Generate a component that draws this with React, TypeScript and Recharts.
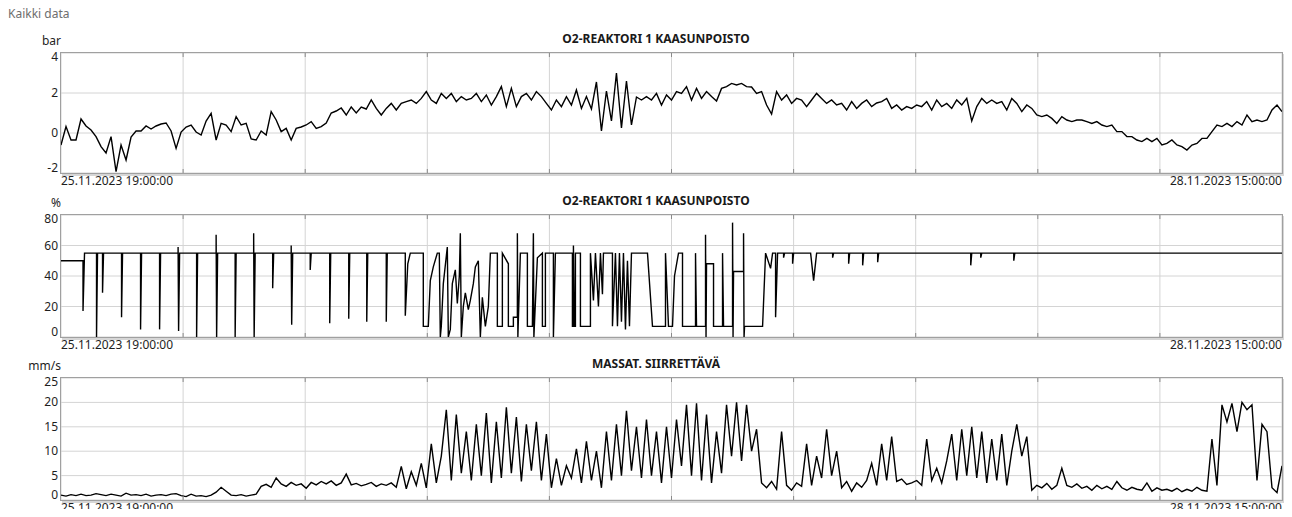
import { LineChart, Line, CartesianGrid, XAxis, YAxis } from "recharts";

// one sample ≈ 16.7 min, 244 steps from 25.11.2023 19:00 to 28.11.2023 15:00
const SPAN = 244;
const startLabel = "25.11.2023 19:00:00";
const endLabel = "28.11.2023 15:00:00";
const gridTicks = Array.from({ length: 9 }, (_, k) => ((k + 1) * SPAN) / 10);

const pressureTicks = [-2, 0, 2, 4];
const valveTicks = [0, 20, 40, 60, 80];
const speedTicks = [0, 5, 10, 15, 20, 25];

// O2-reaktori 1 kaasunpoisto, bar
const pressure = [
  -0.6, 0.32, -0.35, -0.35, 0.7, 0.35, 0.15, -0.18, -0.68, -1.0,
  -0.18, -1.93, -0.6, -1.35, -0.2, 0.1, 0.1, 0.35, 0.2, 0.35,
  0.45, 0.5, 0.1, -0.77, 0.05, 0.3, 0.4, 0.05, -0.1, 0.6,
  0.98, -0.35, 0.48, 0.4, 0.07, 0.82, 0.4, 0.48, -0.3, -0.35,
  0.1, -0.1, 1.07, 0.65, 0.07, 0.23, -0.35, 0.23, 0.3, 0.4,
  0.57, 0.23, 0.32, 0.5, 1.0, 1.1, 1.25, 0.9, 1.3, 1.0,
  1.3, 1.2, 1.65, 1.23, 0.9, 1.23, 1.48, 1.15, 1.48, 1.57,
  1.65, 1.48, 1.73, 2.07, 1.65, 1.48, 1.98, 1.73, 1.98, 1.57,
  1.82, 1.65,
  1.73, 1.98, 1.57, 1.9, 1.4, 1.82, 2.32, 1.32, 2.23, 1.32,
  1.82, 1.98, 1.65, 2.07, 1.82, 1.48, 1.15, 1.65, 1.32, 1.82,
  1.4, 2.15, 1.23, 1.82, 1.2, 2.55, 0.1, 2.1, 0.6, 3.0,
  0.25, 2.6, 0.4, 1.8, 1.65, 1.82, 1.65, 1.98, 1.4, 1.9,
  1.65, 2.07, 1.98, 2.32, 1.65, 2.23, 1.73, 2.07, 1.82, 1.6,
  2.23, 2.32, 2.48, 2.4, 2.48, 2.32, 2.3, 1.98, 2.07, 1.4,
  0.95, 2.07, 1.65, 1.9, 1.48, 1.73, 1.65, 1.32, 1.65, 1.98,
  1.73, 1.48, 1.65, 1.4, 1.48, 1.15, 1.57, 1.23, 1.48, 1.65,
  1.32, 1.5,
  1.57, 1.73, 1.23, 1.4, 1.15, 1.32, 1.23, 1.4, 1.32, 1.57,
  1.15, 1.65, 1.32, 1.48, 1.23, 1.65, 1.4, 1.73, 0.6, 1.32,
  1.73, 1.48, 1.65, 1.48, 1.57, 1.15, 1.73, 1.48, 1.07, 1.4,
  1.23, 0.9, 0.82, 0.9, 0.73, 0.48, 0.82, 0.65, 0.57, 0.65,
  0.65, 0.57, 0.48, 0.57, 0.4, 0.32, 0.4, 0.07, 0.07, -0.18,
  -0.18, -0.35, -0.43, -0.27, -0.43, -0.27, -0.6, -0.52, -0.35, -0.6,
  -0.68, -0.85, -0.6, -0.52, -0.27, -0.27, 0.07, 0.4, 0.32, 0.48,
  0.32, 0.57, 0.4, 0.9, 0.57, 0.65, 0.57, 0.65, 1.15, 1.4,
  1.07,
];

// O2-reaktori 1 kaasunpoisto, % (valve) as [sample, value] - steps need repeated x
const valve: [number, number][] = [
  [0, 50], [4.4, 50], [4.4, 17], [4.7, 55],
  [7.1, 55], [7.1, 0], [7.3, 55], [8.3, 55], [8.3, 29], [8.5, 55],
  [12.1, 55], [12.1, 13], [12.3, 55], [15.9, 55], [15.9, 5], [16.1, 55],
  [19.7, 55], [19.7, 5], [19.9, 55], [23.4, 55], [23.4, 59], [23.5, 4], [23.7, 55],
  [27.1, 55], [27.1, 0], [27.3, 55], [31, 55], [31, 67], [31.1, 0], [31.3, 55],
  [34.8, 55], [34.8, 0], [35, 55], [38.5, 55], [38.5, 68], [38.6, 0], [38.8, 55],
  [42.3, 55], [42.3, 32], [42.5, 55], [46, 55], [46, 60], [46.1, 8], [46.3, 55],
  [49.8, 55], [49.8, 44], [50, 55], [53.7, 55], [53.7, 9], [53.9, 55],
  [57.5, 55], [57.5, 12], [57.7, 55], [61.1, 55], [61.1, 10], [61.3, 55],
  [65, 55], [65, 10], [65.2, 55], [68.8, 55], [68.8, 14], [69.3, 48], [69.8, 55],
  [72.4, 55], [72.4, 7], [73.4, 7], [73.8, 37], [74.4, 46], [75.2, 55], [75.6, 55],
  [75.8, 0], [76, 7], [76.4, 35], [77.2, 59], [77.4, 0], [77.8, 5], [78.2, 35],
  [78.8, 44], [79.2, 22], [79.6, 40], [79.8, 68], [80, 0], [80.4, 20], [80.8, 29],
  [81.4, 18], [81.8, 24], [82.4, 35], [82.8, 46], [83.4, 50], [83.8, 0], [84.2, 26],
  [84.8, 7], [85.4, 20], [85.8, 55], [87.2, 55], [87.2, 7], [88.2, 7], [88.2, 55],
  [89.4, 48], [89.4, 7], [90.4, 7], [90.4, 13], [91.2, 13], [91.2, 68], [91.3, 0],
  [91.8, 55], [93.2, 55], [93.2, 7], [94.2, 7], [94.4, 68], [94.5, 0], [95.2, 52],
  [96.2, 55], [96.2, 7], [96.8, 7], [96.8, 55], [98.4, 55], [98.4, 0], [98.8, 55],
  [102.2, 55], [102.2, 7], [102.4, 7], [102.4, 60], [102.6, 7], [102.8, 7], [102.8, 55],
  [103.8, 55], [103.8, 7], [105.8, 7], [105.8, 55], [106.4, 24], [106.8, 55],
  [107.4, 20], [107.8, 55], [108.2, 28], [108.4, 55], [110.2, 55], [110.2, 7],
  [110.8, 55], [111.2, 7], [111.6, 55], [112, 10], [112.4, 55], [112.8, 5],
  [113.2, 50], [113.6, 7], [114, 55], [117.2, 55], [118.2, 7], [120.8, 7], [120.8, 55],
  [121.4, 7], [122.2, 7], [122.6, 40], [123.4, 55], [124.2, 55], [124.2, 7],
  [126.8, 7], [126.8, 55], [127, 7], [128.8, 7], [128.8, 67], [128.9, 0], [129, 48],
  [130.4, 48], [130.4, 7], [132.2, 7], [132.2, 55], [132.4, 7], [134.2, 7],
  [134.2, 75], [134.3, 0], [134.4, 43], [136.4, 43], [136.4, 68], [136.5, 0],
  [136.6, 7], [140.2, 7], [140.8, 55], [141.8, 45], [142.2, 55], [142.8, 55],
  [142.8, 13], [143.2, 55], [144.4, 55], [144.4, 52], [144.6, 55], [146.2, 55],
  [146.2, 48], [146.4, 55], [149.8, 55], [150.4, 37], [151, 55], [154.2, 55],
  [154.2, 52], [154.4, 55], [157.4, 55], [157.4, 48], [157.6, 55], [160.2, 55],
  [160.2, 47], [160.4, 55], [163.2, 55], [163.2, 49], [163.4, 55], [181.8, 55],
  [181.8, 47], [182, 55], [183.8, 55], [183.8, 52], [184, 55], [190.4, 55],
  [190.4, 50], [190.6, 55], [244, 55],
];

// Massat. siirrettävä, mm/s
const speed = [
  1.0, 0.8, 1.1, 0.9, 1.2, 0.9, 1.0, 1.3, 1.1, 0.9,
  1.2, 1.0, 0.8, 1.4, 1.0, 1.1, 0.9, 1.2, 0.8, 1.0,
  1.1, 0.9, 1.2, 1.3, 0.9, 0.7, 1.2, 0.8, 0.9, 0.7,
  1.0, 1.6, 2.6, 1.8, 1.0, 0.9, 1.1, 0.8, 1.0, 1.2,
  2.8, 3.2, 2.6, 4.5, 3.3, 2.8, 3.6, 3.0, 3.3, 2.4,
  3.6, 3.1, 3.8, 3.3, 3.9, 3.0, 3.5, 5.3, 3.1, 3.4,
  2.9, 3.2, 3.6, 2.8, 3.3, 3.0, 3.5, 2.6, 6.9, 2.3,
  5.8, 3.0, 7.5, 2.5, 11.5, 3.5, 9.0, 18.5, 4.0, 17.5,
  5.5, 14.0,
  4.0, 15.5, 5.0, 17.8, 3.5, 16.0, 4.5, 19.0, 5.5, 17.0,
  3.8, 15.5, 6.0, 16.0, 4.0, 13.5, 2.5, 8.5, 3.0, 7.0,
  4.5, 10.5, 3.5, 12.0, 4.0, 10.0, 2.5, 14.0, 4.0, 15.5,
  5.0, 18.3, 6.0, 15.0, 4.5, 16.5, 5.0, 14.0, 3.5, 15.0,
  4.5, 16.5, 7.0, 19.5, 5.0, 19.8, 4.0, 17.5, 3.5, 14.0,
  5.5, 19.5, 9.0, 20.0, 8.0, 19.5, 10.0, 14.5, 3.5, 2.5,
  3.8, 2.2, 14.0, 3.0, 2.0, 3.5, 2.8, 11.5, 3.0, 9.0,
  4.5, 14.5, 5.0, 10.0, 2.5, 3.8, 1.8, 3.5, 2.6, 4.0,
  7.5, 3.0,
  11.5, 4.0, 13.0, 3.8, 4.3, 3.2, 3.5, 4.0, 3.0, 12.5,
  4.0, 6.5, 3.5, 8.0, 13.5, 4.0, 14.5, 5.0, 15.0, 4.5,
  14.0, 3.5, 12.5, 4.0, 13.5, 3.0, 10.0, 15.5, 9.0, 13.0,
  2.0, 3.0, 2.5, 3.4, 2.2, 3.0, 6.5, 3.0, 2.6, 3.3,
  2.4, 2.8, 2.0, 3.0, 2.3, 2.8, 2.2, 3.8, 2.5, 2.0,
  2.6, 2.2, 2.0, 3.5, 1.8, 2.5, 2.0, 2.2, 1.8, 2.4,
  1.7, 2.2, 1.8, 2.6, 2.0, 1.8, 12.5, 3.0, 19.5, 16.0,
  19.8, 14.0, 20.0, 18.5, 19.5, 4.0, 15.5, 14.0, 2.5, 1.5,
  7.0,
];

const font = '"Noto Sans", "Open Sans", sans-serif';
const PAD = 10;

type Row = { s: number; v: number };

function makeTick(min: number, max: number) {
  return (p: any) => {
    const val = p.payload.value;
    let dy = 4;
    if (val === max) dy += 4;
    if (val === min) dy -= 5;
    return (
      <text x={p.x} y={p.y + dy} textAnchor="end" fontSize={12} fill="#1e1e1e" fontFamily={font}>
        {val}
      </text>
    );
  };
}

const noLabel = () => <g />;

type PanelProps = {
  top: number;
  height: number;
  rows: Row[];
  ticks: number[];
  title: string;
  unit: string;
};

function Panel({ top, height, rows, ticks, title, unit }: PanelProps) {
  const min = ticks[0];
  const max = ticks[ticks.length - 1];
  const bottom = top + height;
  const mark = { stroke: "#8a8a8a", strokeWidth: 1 };
  return (
    <>
      <div style={{ position: "absolute", left: 0, width: 1292, paddingLeft: 20, boxSizing: "border-box", top: top - 22, lineHeight: "16px", textAlign: "center", fontWeight: 700, fontSize: 12, color: "#1a1a1a" }}>
        {title}
      </div>
      <div style={{ position: "absolute", left: 0, width: 61, top: top - 20, lineHeight: "16px", textAlign: "right", fontSize: 12, color: "#1e1e1e" }}>
        {unit}
      </div>
      <div style={{ position: "absolute", left: 0, top: top - PAD }}>
        <LineChart width={1292} height={height + 2 * PAD} data={rows} margin={{ top: PAD, right: PAD, bottom: PAD, left: 0 }}>
          <CartesianGrid stroke="#d4d4d4" />
          <XAxis dataKey="s" type="number" domain={[0, SPAN]} ticks={gridTicks} height={PAD} mirror tick={noLabel} axisLine={false} tickLine={mark} tickSize={4} />
          <XAxis xAxisId="top" orientation="top" dataKey="s" type="number" domain={[0, SPAN]} ticks={gridTicks} height={PAD} mirror tick={noLabel} axisLine={false} tickLine={mark} tickSize={4} />
          <YAxis type="number" domain={[min, max]} ticks={ticks} interval={0} width={61} axisLine={false} tickLine={false} tickSize={0} tickMargin={3} tick={makeTick(min, max)} />
          <YAxis yAxisId="right" orientation="right" mirror type="number" domain={[min, max]} ticks={ticks} interval={0} width={PAD} axisLine={false} tickLine={mark} tickSize={5} tick={noLabel} />
          <Line type="linear" dataKey="v" stroke="#000" strokeWidth={1.4} dot={false} isAnimationActive={false} />
        </LineChart>
      </div>
      <div style={{ position: "absolute", left: 60, top: top - 1, width: 1223, height: height + 2, boxSizing: "border-box", border: "1px solid #a0a0a0", boxShadow: "2px 2px 0 0 #d6d6d6", pointerEvents: "none" }} />
      <div style={{ position: "absolute", left: 61, top: bottom, lineHeight: "16px", fontSize: 12, color: "#1e1e1e" }}>{startLabel}</div>
      <div style={{ position: "absolute", left: 0, width: 1282, top: bottom, lineHeight: "16px", fontSize: 12, textAlign: "right", color: "#1e1e1e" }}>{endLabel}</div>
    </>
  );
}

export default function App() {
  const pressureRows = pressure.map((v, i) => ({ s: i, v }));
  const valveRows = valve.map(([s, v]) => ({ s, v }));
  const speedRows = speed.map((v, i) => ({ s: i, v }));

  return (
    <div style={{ position: "relative", width: 1292, height: 517, margin: -8, background: "#fff", fontFamily: font, overflow: "hidden" }}>
      <div style={{ position: "absolute", left: 8, top: 6, lineHeight: "16px", fontSize: 12, color: "#6e6e6e" }}>Kaikki data</div>
      <Panel top={53} height={120} rows={pressureRows} ticks={pressureTicks} title="O2-REAKTORI 1 KAASUNPOISTO" unit="bar" />
      <Panel top={215} height={122} rows={valveRows} ticks={valveTicks} title="O2-REAKTORI 1 KAASUNPOISTO" unit="%" />
      <Panel top={378} height={122} rows={speedRows} ticks={speedTicks} title="MASSAT. SIIRRETTÄVÄ" unit="mm/s" />
    </div>
  );
}
